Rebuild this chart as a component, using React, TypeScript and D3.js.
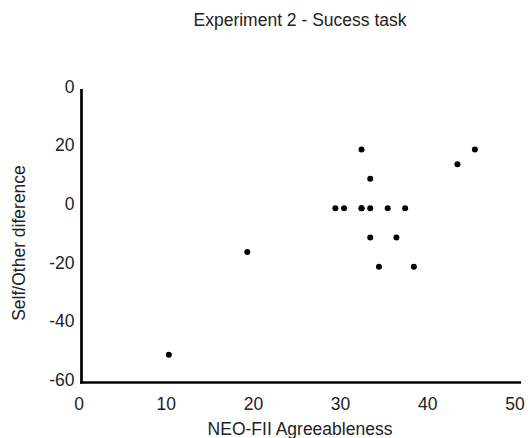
import React, { useRef, useEffect } from "react";
import * as d3 from "d3";

// NEO-FII agreeableness score vs self/other difference
const agreeableness = [10.3, 19.3, 29.4, 30.4, 32.4, 32.4, 32.4, 33.4, 33.4, 33.4, 34.4, 35.4, 36.4, 37.4, 38.4, 43.4, 45.4];
const difference = [-51, -16, -1, -1, 19, -1, -1, 9, -11, -1, -21, -1, -11, -1, -21, 14, 19];

const xTicks = [0, 10, 20, 30, 40, 50];
const yTicks = [40, 20, 0, -20, -40, -60];
const yTickLabels = ["0", "20", "0", "-20", "-40", "-60"];

const App = () => {
  const svgRef = useRef<SVGSVGElement>(null);

  useEffect(() => {
    const svg = d3.select(svgRef.current);
    svg.selectAll("*").remove();
    const font = "'Liberation Sans', Arial, sans-serif";

    const x = d3.scaleLinear().domain([0, 50]).range([79, 515]);
    const y = d3.scaleLinear().domain([-60, 40]).range([381, 88]);

    svg
      .append("text")
      .attr("x", 300)
      .attr("y", 26)
      .attr("text-anchor", "middle")
      .attr("font-family", font)
      .attr("font-size", 17.5)
      .attr("fill", "#222")
      .text("Experiment 2 - Sucess task");

    // axis lines
    svg
      .append("line")
      .attr("x1", 81.5)
      .attr("x2", 81.5)
      .attr("y1", 89)
      .attr("y2", 383.5)
      .attr("stroke", "#000")
      .attr("stroke-width", 2.7);
    svg
      .append("line")
      .attr("x1", 80)
      .attr("x2", 521)
      .attr("y1", 382.5)
      .attr("y2", 382.5)
      .attr("stroke", "#000")
      .attr("stroke-width", 2.7);

    svg
      .selectAll(".xt")
      .data(xTicks)
      .enter()
      .append("text")
      .attr("x", (d) => x(d))
      .attr("y", 410)
      .attr("text-anchor", "middle")
      .attr("font-family", font)
      .attr("font-size", 17.5)
      .attr("fill", "#222")
      .text((d) => d);

    svg
      .selectAll(".yt")
      .data(yTicks)
      .enter()
      .append("text")
      .attr("x", 74.5)
      .attr("y", (d) => y(d) - 1.5)
      .attr("dy", "0.36em")
      .attr("text-anchor", "end")
      .attr("font-family", font)
      .attr("font-size", 17.5)
      .attr("fill", "#222")
      .text((d, i) => yTickLabels[i]);

    svg
      .append("text")
      .attr("x", 300)
      .attr("y", 435)
      .attr("text-anchor", "middle")
      .attr("font-family", font)
      .attr("font-size", 17.5)
      .attr("fill", "#222")
      .text("NEO-FII Agreeableness");

    svg
      .append("text")
      .attr("transform", "translate(25, 243) rotate(-90)")
      .attr("text-anchor", "middle")
      .attr("font-family", font)
      .attr("font-size", 17.5)
      .attr("fill", "#222")
      .text("Self/Other diference");

    svg
      .selectAll(".dot")
      .data(agreeableness)
      .enter()
      .append("circle")
      .attr("cx", (d) => x(d))
      .attr("cy", (d, i) => y(difference[i]))
      .attr("r", 3)
      .attr("fill", "#000");
  }, []);

  return (
    <svg
      ref={svgRef}
      width={528}
      height={438}
      style={{ position: "absolute", left: 0, top: 0, background: "#fff" }}
    />
  );
};

export default App;
